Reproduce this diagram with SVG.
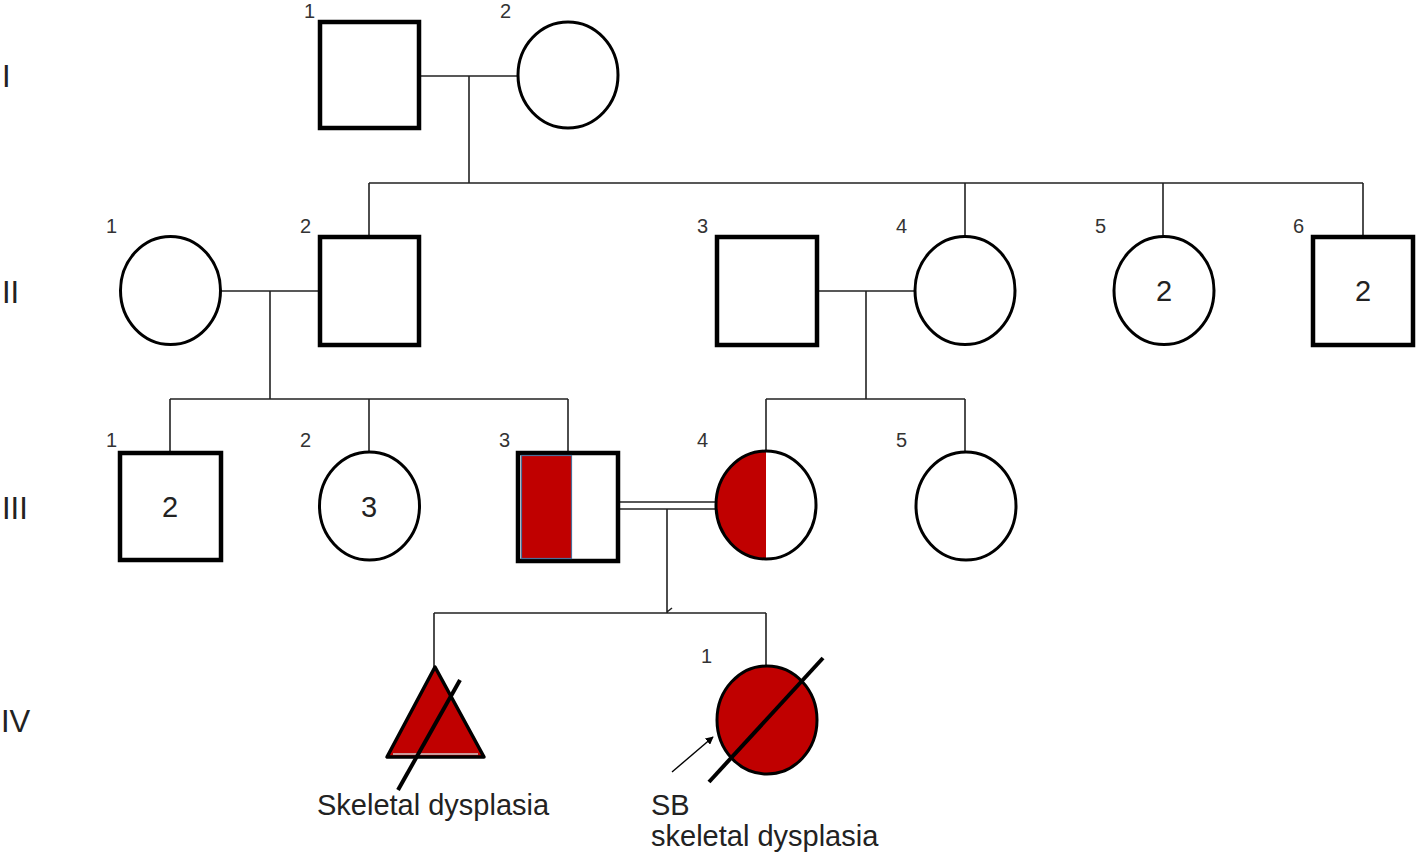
<svg xmlns="http://www.w3.org/2000/svg" width="1418" height="861" viewBox="0 0 1418 861">
<style>
.sq{fill:#fff;stroke:#000;stroke-width:4.5}
.ci{fill:#fff;stroke:#000;stroke-width:3}
.ln{fill:none;stroke:#222;stroke-width:1.6}
.num{font-family:"Liberation Sans",Arial,sans-serif;font-size:20px;fill:#333}
.big{font-family:"Liberation Sans",Arial,sans-serif;font-size:29px;fill:#222}
.gen{font-family:"Liberation Sans",Arial,sans-serif;font-size:31px;fill:#222}
.red{fill:#c00000}
</style>
<defs>
<marker id="ah" viewBox="0 0 10 10" refX="9" refY="5" markerWidth="8" markerHeight="8" orient="auto" markerUnits="userSpaceOnUse">
<path d="M0,0 L10,5 L0,10 z" fill="#000"/>
</marker>
</defs>
<rect width="1418" height="861" fill="#fff"/>
<g id="generation-labels">
<text class="gen" x="2" y="87">I</text>
<text class="gen" x="2" y="303">II</text>
<text class="gen" x="2" y="519">III</text>
<text class="gen" x="1" y="732">IV</text>
</g>
<g id="connectors">
<path class="ln" d="M420,76 H518 M469,76 V183 M369,183 H1363 M369,183 V237 M965,183 V236 M1163,183 V236 M1363,183 V235"/>
<path class="ln" d="M221,291 H320 M270,291 V399 M170,399 H568 M170,399 V452 M369,399 V452 M568,399 V451"/>
<path class="ln" d="M817,291 H915 M866,291 V399 M766,399 H965 M766,399 V450 M965,399 V452"/>
<path class="ln" d="M619,502 H716 M619,509 H716 M667,509 V613 M434,613 H766 M434,613 V667 M766,613 V666 M667,612 L672,608"/>
</g>
<g id="I-1"><rect class="sq" x="320" y="22" width="99" height="106"/><text class="num" x="304" y="18">1</text></g>
<g id="I-2"><ellipse class="ci" cx="568" cy="75" rx="50" ry="53"/><text class="num" x="500" y="18">2</text></g>
<g id="II-1"><ellipse class="ci" cx="170.5" cy="290.5" rx="50" ry="54"/><text class="num" x="106" y="233">1</text></g>
<g id="II-2"><rect class="sq" x="320" y="237" width="99" height="108"/><text class="num" x="300" y="233">2</text></g>
<g id="II-3"><rect class="sq" x="717" y="237" width="100" height="108"/><text class="num" x="697" y="233">3</text></g>
<g id="II-4"><ellipse class="ci" cx="965" cy="290.5" rx="50" ry="54"/><text class="num" x="896" y="233">4</text></g>
<g id="II-5"><ellipse class="ci" cx="1164" cy="290.5" rx="50" ry="54"/><text class="num" x="1095" y="233">5</text><text class="big" x="1164" y="301" text-anchor="middle">2</text></g>
<g id="II-6"><rect class="sq" x="1313" y="237" width="100" height="108"/><text class="num" x="1293" y="233">6</text><text class="big" x="1363" y="301" text-anchor="middle">2</text></g>
<g id="III-1"><rect class="sq" x="120" y="453" width="101" height="107"/><text class="num" x="106" y="447">1</text><text class="big" x="170" y="517" text-anchor="middle">2</text></g>
<g id="III-2"><ellipse class="ci" cx="369.5" cy="506" rx="50" ry="54"/><text class="num" x="300" y="447">2</text><text class="big" x="369" y="517" text-anchor="middle">3</text></g>
<g id="III-3"><rect class="sq" x="518" y="453" width="100" height="108"/><rect class="red" x="521.5" y="455.5" width="50" height="103" stroke="#4a6f9a" stroke-width="1.2"/><text class="num" x="499" y="447">3</text></g>
<g id="III-4"><ellipse cx="766" cy="505" rx="50" ry="54" fill="#fff"/><path class="red" d="M766,451 A50,54 0 0 0 766,559 Z"/><ellipse cx="766" cy="505" rx="50" ry="54" fill="none" stroke="#000" stroke-width="3"/><text class="num" x="697" y="447">4</text></g>
<g id="III-5"><ellipse class="ci" cx="966" cy="506" rx="50" ry="54"/><text class="num" x="896" y="447">5</text></g>
<g id="IV-triangle">
<polygon points="435,667 387,757 484,757" fill="#c00000" stroke="#000" stroke-width="3.5" stroke-linejoin="round"/>
<line x1="393" y1="754" x2="478" y2="754" stroke="#ccc" stroke-width="1.5"/>
<line x1="460" y1="680" x2="398" y2="790" stroke="#000" stroke-width="4"/>
<text class="big" x="317" y="815">Skeletal dysplasia</text>
</g>
<g id="IV-1">
<ellipse cx="767" cy="720" rx="50" ry="54" fill="#c00000" stroke="#000" stroke-width="3"/>
<line x1="823" y1="658" x2="709" y2="782" stroke="#000" stroke-width="4"/>
<line x1="672" y1="772" x2="713" y2="737" stroke="#000" stroke-width="1.4" marker-end="url(#ah)"/>
<text class="num" x="701" y="663">1</text>
<text class="big" x="651" y="815">SB</text>
<text class="big" x="651" y="846">skeletal dysplasia</text>
</g>
</svg>
